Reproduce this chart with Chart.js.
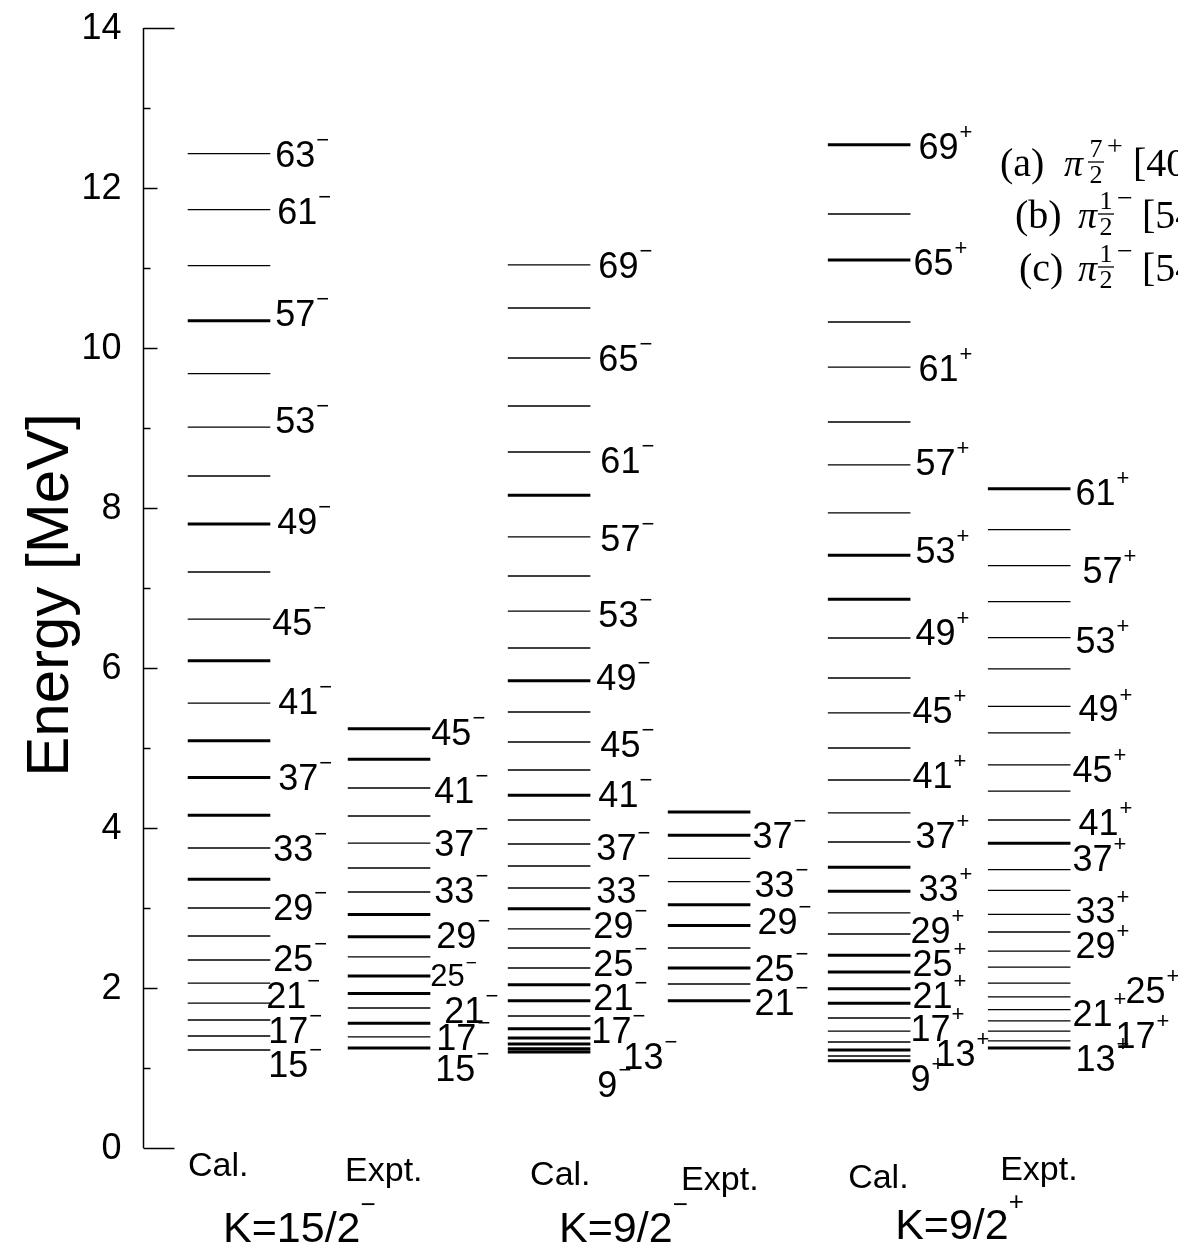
<!DOCTYPE html>
<html><head><meta charset="utf-8">
<script src="https://cdn.jsdelivr.net/npm/chart.js@4/dist/chart.umd.min.js"></script>
<style>html,body{margin:0;padding:0;background:#fff;overflow:hidden}#wrap{width:1178px;height:1249px;position:relative}</style>
</head><body><div id="wrap"><canvas id="c"></canvas></div>
<script>
// ---------- DATA ----------
const columnNames = ["Cal.", "Expt.", "Cal.", "Expt.", "Cal.", "Expt."];
const groupNames = ["K=15/2", "K=9/2", "K=9/2"];
const groupParity = ["\u2212", "\u2212", "+"];
const columnParity = ["\u2212", "\u2212", "\u2212", "\u2212", "+", "+"];
const yTickValues = [0, 2, 4, 6, 8, 10, 12, 14];

// Cal. K=15/2-
const spins1 = [15,17,19,21,23,25,27,29,31,33,35,37,39,41,43,45,47,49,51,53,55,57,59,61,63];
const energy1 = [1.225,1.40,1.60,1.81,2.06,2.35,2.65,3.00,3.36,3.75,4.16,4.63,5.09,5.56,6.09,6.61,7.20,7.80,8.40,9.01,9.68,10.34,11.03,11.73,12.43];
const bold1 = [31,35,37,39,43,49,57];
const labels1 = [15,17,21,25,29,33,37,41,45,49,53,57,61,63];

// Expt. K=15/2-
const spins2 = [15,17,19,21,23,25,27,29,31,33,35,37,39,41,43,45];
const energy2 = [1.25,1.39,1.56,1.75,1.93,2.15,2.39,2.64,2.92,3.20,3.50,3.81,4.15,4.50,4.86,5.24];
const bold2 = [15,19,23,25,29,31,43,45];
const labels2 = [15,17,21,25,29,33,37,41,45];

// Cal. K=9/2-
const spins3 = [9,11,13,15,17,19,21,23,25,27,29,31,33,35,37,39,41,43,45,47,49,51,53,55,57,59,61,63,65,67,69];
const energy3 = [1.20,1.24,1.30,1.375,1.49,1.65,1.84,2.04,2.25,2.50,2.74,2.99,3.25,3.525,3.80,4.10,4.41,4.725,5.075,5.45,5.84,6.25,6.71,7.15,7.64,8.16,8.70,9.275,9.875,10.50,11.04];
const bold3 = [9,11,13,15,17,21,23,31,41,49,59];
const labels3 = [9,13,17,21,25,29,33,37,41,45,49,53,57,61,65,69];

// Expt. K=9/2-
const spins4 = [21,23,25,27,29,31,33,35,37,39];
const energy4 = [1.84,2.05,2.25,2.50,2.78,3.04,3.33,3.62,3.91,4.20];
const bold4 = [21,25,29,31,37,39];
const labels4 = [21,25,29,33,37];

// Cal. K=9/2+
const spins5 = [9,11,13,15,17,19,21,23,25,27,29,31,33,35,37,39,41,43,45,47,49,51,53,55,57,59,61,63,65,67,69];
const energy5 = [1.09,1.15,1.225,1.325,1.46,1.625,1.81,1.99,2.20,2.41,2.675,2.94,3.21,3.51,3.825,4.19,4.60,5.00,5.44,5.875,6.375,6.86,7.41,7.94,8.54,9.075,9.76,10.325,11.10,11.675,12.54];
const bold5 = [9,13,21,23,25,27,33,35,51,53,65,69];
const labels5 = [9,13,17,21,25,29,33,37,41,45,49,53,57,61,65,69];

// Expt. K=9/2+
const spins6 = [13,15,17,19,21,23,25,27,29,31,33,35,37,39,41,43,45,47,49,51,53,55,57,59,61];
const energy6 = [1.25,1.34,1.46,1.59,1.73,1.89,2.06,2.26,2.46,2.70,2.92,3.22,3.48,3.81,4.10,4.46,4.79,5.19,5.52,5.99,6.38,6.83,7.28,7.73,8.24];
const bold6 = [13,39,61];
const labels6 = [13,17,21,25,29,33,37,41,45,49,53,57,61];

// ---------- LAYOUT (label nudges in px: [dx from line end, dy]) ----------
const HALF = 0.258;
const labelNudge = [
  {63:[5,0],61:[7,1],57:[5,-8],53:[5,-7],49:[7,-3],45:[2,3],41:[8,-2],37:[8,-1],33:[3,0],29:[3,-1],25:[3,-2],21:[-4,-8],17:[-2,-6],15:[-2,14]},
  {45:[1,3],41:[4,2],37:[4,0],33:[4,-2],29:[6,-2],25:[0,-1],21:[14,2],17:[6,0],15:[5,20]},
  {69:[8,0],65:[8,0],61:[10,8],57:[10,1],53:[8,3],49:[6,-4],45:[10,2],41:[8,-1],37:[6,3],33:[6,2],29:[3,-4],25:[3,-5],21:[3,-4],17:[1,1],13:[33,12],9:[7,32]},
  {37:[2,0],33:[4,2],29:[7,-5],25:[4,0],21:[4,1]},
  {69:[8,1],65:[3,2],61:[8,1],57:[5,-3],53:[5,-5],49:[5,-6],45:[2,-3],41:[2,-5],37:[5,-7],33:[8,-3],29:[0,-4],25:[2,-9],21:[2,-8],17:[0,-3],13:[25,3],9:[0,17]},
  {61:[5,3],57:[12,4],53:[5,2],49:[8,2],45:[2,4],41:[8,2],37:[2,-12],33:[5,-4],29:[5,-6],25:[55,7],21:[2,3],17:[45,4],13:[5,10]}
];
const smallLabel = {1:{25:31}};

const cols = [
  {spins:spins1, energy:energy1, bold:bold1, labels:labels1},
  {spins:spins2, energy:energy2, bold:bold2, labels:labels2},
  {spins:spins3, energy:energy3, bold:bold3, labels:labels3},
  {spins:spins4, energy:energy4, bold:bold4, labels:labels4},
  {spins:spins5, energy:energy5, bold:bold5, labels:labels5},
  {spins:spins6, energy:energy6, bold:bold6, labels:labels6}
];

function levelSegments(k, col, wantBold){
  const out = [];
  col.energy.forEach((e,i)=>{
    if (col.bold.includes(col.spins[i]) === wantBold){
      out.push({x:k-HALF,y:e},{x:k+HALF,y:e},{x:k,y:null});
    }
  });
  return out;
}

const datasets = [];
cols.forEach((col,i)=>{
  const k = i+1;
  datasets.push({data:levelSegments(k,col,false),showLine:true,borderColor:'#000',borderWidth:1.3,pointRadius:0,spanGaps:false,borderCapStyle:'butt'});
  datasets.push({data:levelSegments(k,col,true),showLine:true,borderColor:'#000',borderWidth:3,pointRadius:0,spanGaps:false,borderCapStyle:'butt'});
});

const SANS = '"Liberation Sans", Arial, Helvetica, sans-serif';
const SERIF = '"Liberation Serif", "Times New Roman", serif';

function drawSpin(ctx, num, sign, x, yc, size){
  ctx.textAlign='left'; ctx.textBaseline='alphabetic';
  ctx.font = size+'px '+SANS;
  const base = yc + size*0.36;
  ctx.fillText(String(num), x, base);
  const w = ctx.measureText(String(num)).width;
  const ss = Math.round(size*0.6);
  ctx.font = ss+'px '+SANS;
  ctx.fillText(sign, x + w + 1, base - size*0.55);
}

const drawPlugin = {
  id:'levelScheme',
  afterDraw(chart){
    const ctx = chart.ctx;
    const xs = chart.scales.x, ys = chart.scales.y;
    ctx.save();
    ctx.fillStyle = '#000'; ctx.strokeStyle = '#000';
    // y axis
    const ax = Math.round(xs.getPixelForValue(xs.min)) + 0.5;
    const yTop = ys.getPixelForValue(14), yBot = ys.getPixelForValue(0);
    ctx.lineWidth = 1.5;
    ctx.beginPath(); ctx.moveTo(ax, yTop); ctx.lineTo(ax, yBot); ctx.stroke();
    // ticks
    for (let v=0; v<=14; v++){
      const py = Math.round(ys.getPixelForValue(v))+0.5;
      let len = (v%2===0) ? 14 : 7;
      if (v===0 || v===14) len = 31;
      ctx.beginPath(); ctx.moveTo(ax, py); ctx.lineTo(ax+len, py); ctx.stroke();
    }
    ctx.font = '36px '+SANS; ctx.textAlign='right'; ctx.textBaseline='middle';
    yTickValues.forEach(v=>{ ctx.fillText(String(v), ax-22, ys.getPixelForValue(v)+1); });
    // y title
    ctx.save();
    ctx.translate(68, 595);
    ctx.rotate(-Math.PI/2);
    ctx.font = '60px '+SANS; ctx.textAlign='center'; ctx.textBaseline='alphabetic';
    ctx.fillText('Energy [MeV]', 0, 0);
    ctx.restore();

    // spin labels
    cols.forEach((col,i)=>{
      const k=i+1;
      const xEnd = xs.getPixelForValue(k+HALF);
      col.labels.forEach(s=>{
        const idx = col.spins.indexOf(s);
        const nud = labelNudge[i][s] || [5,0];
        const size = (smallLabel[i] && smallLabel[i][s]) || 36;
        drawSpin(ctx, s, columnParity[i], xEnd+nud[0], ys.getPixelForValue(col.energy[idx])+nud[1], size);
      });
    });

    // column names
    const nameNudge = [[-41,28],[-44,33],[-19,37],[-28,42],[-21,40],[-29,32]];
    ctx.font = '34px '+SANS; ctx.textAlign='left'; ctx.textBaseline='alphabetic';
    columnNames.forEach((n,i)=>{
      ctx.fillText(n, xs.getPixelForValue(i+1)+nameNudge[i][0], yBot+nameNudge[i][1]);
    });
    // group labels (left x offsets relative to first column of group)
    const groupPos = [[1,-6,94],[3,10,94],[5,26,91]];
    groupNames.forEach((g,i)=>{
      const lx = xs.getPixelForValue(groupPos[i][0]) + groupPos[i][1];
      ctx.font = '43px '+SANS; ctx.textAlign='left';
      ctx.fillText(g, lx, yBot+groupPos[i][2]);
      const w = ctx.measureText(g).width;
      ctx.font = '26px '+SANS;
      ctx.fillText(groupParity[i], lx + w, yBot+groupPos[i][2]-29);
    });

    // legend text (top right, cut by the edge)
    const rows = [
      {tag:'(a)', x:1000, pi:1064, fx:1096, base:176, num:'7', sign:'+', tail:'[40', tx:1133},
      {tag:'(b)', x:1015, pi:1078, fx:1106, base:228, num:'1', sign:'\u2212', tail:'[54', tx:1142},
      {tag:'(c)', x:1019, pi:1078, fx:1106, base:281, num:'1', sign:'\u2212', tail:'[54', tx:1142}
    ];
    rows.forEach(r=>{
      ctx.textAlign='left'; ctx.textBaseline='alphabetic';
      ctx.font = '40px '+SERIF;
      ctx.fillText(r.tag, r.x, r.base);
      ctx.font = 'italic 38px '+SERIF;
      ctx.fillText('\u03c0', r.pi, r.base);
      ctx.font = '26px '+SERIF; ctx.textAlign='center';
      ctx.fillText(r.num, r.fx, r.base-19);
      ctx.lineWidth = 1.3;
      ctx.beginPath(); ctx.moveTo(r.fx-8, r.base-14); ctx.lineTo(r.fx+8, r.base-14); ctx.stroke();
      ctx.fillText('2', r.fx, r.base+7);
      ctx.textAlign='left';
      ctx.font = '28px '+SERIF;
      ctx.fillText(r.sign, r.fx+11, r.base-21);
      ctx.font = '40px '+SERIF;
      ctx.fillText(r.tail, r.tx, r.base);
    });
    ctx.restore();
  }
};

new Chart(document.getElementById('c'), {
  type:'scatter',
  data:{datasets},
  options:{
    responsive:true, maintainAspectRatio:false, animation:false, events:[],
    layout:{padding:{left:143, top:28, right:0, bottom:101}},
    plugins:{legend:{display:false}, tooltip:{enabled:false}, title:{display:false}},
    scales:{
      x:{type:'linear', min:0.4625, max:6.93, display:false},
      y:{type:'linear', min:0, max:14, display:false}
    }
  },
  plugins:[drawPlugin]
});
</script></body></html>
